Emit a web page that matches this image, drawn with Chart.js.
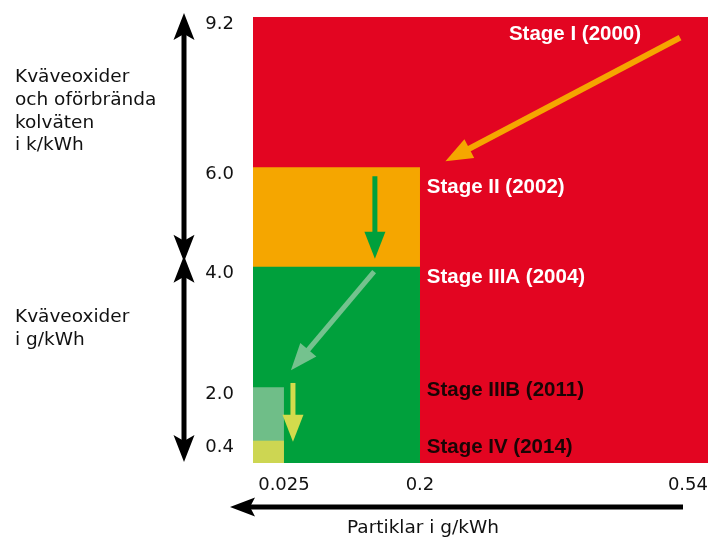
<!DOCTYPE html>
<html>
<head>
<meta charset="utf-8">
<script src="https://cdn.jsdelivr.net/npm/chart.js@4.4.1/dist/chart.umd.min.js"></script>
<style>
  html, body { margin: 0; padding: 0; background: #fff; }
  #wrap { width: 713px; height: 540px; position: relative; }
</style>
</head>
<body>
<div id="wrap"><canvas id="stageChart"></canvas></div>
<script>
// Gränsvärden per steg (EU-steg för arbetsmaskiner)
const stageNames = ['Stage I (2000)', 'Stage II (2002)', 'Stage IIIA (2004)', 'Stage IIIB (2011)', 'Stage IV (2014)'];
const partikelGrans = [0.54, 0.2, 0.2, 0.025, 0.025];   // Partiklar i g/kWh
const noxGrans = [9.2, 6.0, 4.0, 2.0, 0.4];              // Kväveoxider (+HC)

const xTickValues = [0, 0.025, 0.2, 0.54];
const xTickLabels = ['', '0.025', '0.2', '0.54'];
const yTickValues = [0.4, 2.0, 4.0, 6.0, 9.2];
const yTickLabels = ['0.4', '2.0', '4.0', '6.0', '9.2'];

// Färger (stil, inte data)
const stageColors = ['#E30521', '#F5A600', '#00A03C', '#6FBE88', '#CDD652'];
const arrowColors = ['#F5A600', '#00A03C', '#74C28E', '#D3DB4C'];
const labelColors = ['#fff', '#fff', '#fff', '#1a0505', '#1a0505'];

// Axeln är inte linjär: brytpunkter (värde -> andel av axelns längd)
const axisBreaks = {
    x: { values: [0, 0.025, 0.2, 0.54], fractions: [0, 0.068, 0.367, 1] },
    y: { values: [0, 0.4, 2.0, 4.0, 6.0, 9.2], fractions: [0, 0.050, 0.170, 0.440, 0.663, 1] }
};

// Pilar mellan stegen, i dataenheter
const stepArrows = [
    { from: [0.507, 8.76], to: [0.23, 6.13], width: 6 },
    { from: [0.142, 5.82], to: [0.142, 4.16], width: 5 },
    { from: [0.141, 3.92], to: [0.034, 2.28], width: 5 },
    { from: [0.0366, 2.07], to: [0.0366, 0.38], width: 5 }
];
// Textpositioner för stegen, i dataenheter
const labelAnchors = [[0.305, 8.72], [0.208, 5.49], [0.208, 3.73], [0.208, 1.73], [0.208, 0.18]];

function interp(xs, ys, v) {
    if (v <= xs[0]) return ys[0];
    for (let i = 1; i < xs.length; i++) {
        if (v <= xs[i]) {
            const t = (v - xs[i - 1]) / (xs[i] - xs[i - 1]);
            return ys[i - 1] + t * (ys[i] - ys[i - 1]);
        }
    }
    return ys[ys.length - 1];
}

class PiecewiseScale extends Chart.LinearScale {
    getPixelForValue(value) {
        const b = axisBreaks[this.id];
        return this.getPixelForDecimal(interp(b.values, b.fractions, value));
    }
    getValueForPixel(pixel) {
        const b = axisBreaks[this.id];
        return interp(b.fractions, b.values, this.getDecimalForPixel(pixel));
    }
}
PiecewiseScale.id = 'piecewise';
PiecewiseScale.defaults = Chart.LinearScale.defaults;
Chart.register(PiecewiseScale);

function drawArrow(ctx, x1, y1, x2, y2, color, lw, headLen, headW, notch, both) {
    const dx = x2 - x1, dy = y2 - y1;
    const len = Math.hypot(dx, dy);
    const ux = dx / len, uy = dy / len;
    ctx.save();
    ctx.fillStyle = color;
    ctx.strokeStyle = color;
    ctx.lineWidth = lw;
    const head = (tx, ty, sx, sy) => {
        const bx = tx - sx * headLen, by = ty - sy * headLen;
        ctx.beginPath();
        ctx.moveTo(tx, ty);
        ctx.lineTo(bx - sy * headW / 2, by + sx * headW / 2);
        ctx.lineTo(bx + sx * notch, by + sy * notch);
        ctx.lineTo(bx + sy * headW / 2, by - sx * headW / 2);
        ctx.closePath();
        ctx.fill();
    };
    const sx = both ? x1 + ux * (headLen - notch - 1) : x1;
    const sy = both ? y1 + uy * (headLen - notch - 1) : y1;
    const ex = x2 - ux * (headLen - notch - 1), ey = y2 - uy * (headLen - notch - 1);
    ctx.beginPath();
    ctx.moveTo(sx, sy);
    ctx.lineTo(ex, ey);
    ctx.stroke();
    head(x2, y2, ux, uy);
    if (both) head(x1, y1, -ux, -uy);
    ctx.restore();
}

const decorPlugin = {
    id: 'decor',
    afterDatasetsDraw(chart) {
        const { ctx, scales: { x, y } } = chart;
        stepArrows.forEach((a, i) => {
            drawArrow(ctx,
                x.getPixelForValue(a.from[0]), y.getPixelForValue(a.from[1]),
                x.getPixelForValue(a.to[0]), y.getPixelForValue(a.to[1]),
                arrowColors[i], a.width, 27, 21, 0, false);
        });
        ctx.save();
        ctx.font = 'bold 20.5px "Liberation Sans", Arial, sans-serif';
        ctx.textAlign = 'left';
        ctx.textBaseline = 'alphabetic';
        stageNames.forEach((name, i) => {
            ctx.fillStyle = labelColors[i];
            ctx.fillText(name, x.getPixelForValue(labelAnchors[i][0]), y.getPixelForValue(labelAnchors[i][1]));
        });
        ctx.restore();
    },
    afterDraw(chart) {
        const { ctx, scales: { x, y } } = chart;
        // svarta pilar vid y-axeln
        const ax = 184;
        const yTop = y.getPixelForValue(9.2) - 4;
        const yMid = y.getPixelForValue(4.0);
        const yBot = y.getPixelForValue(0) - 1;
        drawArrow(ctx, ax, yTop, ax, yMid - 5, '#000', 5, 27, 21, 6, true);
        drawArrow(ctx, ax, yMid - 11, ax, yBot, '#000', 5, 27, 21, 6, true);
        // svart pil vid x-axeln
        drawArrow(ctx, x.getPixelForValue(0.54) - 25, 507, x.getPixelForValue(0) - 23, 507, '#000', 5, 25, 19, 5, false);

        ctx.save();
        ctx.fillStyle = '#111';
        ctx.font = '18.5px "DejaVu Sans", sans-serif';
        ctx.textAlign = 'left';
        ctx.textBaseline = 'alphabetic';
        ['Kväveoxider', 'och oförbrända', 'kolväten', 'i k/kWh'].forEach((t, i) => ctx.fillText(t, 15, 82 + i * 22.8));
        ['Kväveoxider', 'i g/kWh'].forEach((t, i) => ctx.fillText(t, 15, 322 + i * 23));
        ctx.fillText('Partiklar i g/kWh', 347, 533);
        ctx.restore();
    }
};

const datasets = stageNames.map((name, i) => ({
    label: name,
    data: [{ x: 0, y: noxGrans[i] }, { x: partikelGrans[i], y: noxGrans[i] }],
    backgroundColor: stageColors[i],
    borderColor: stageColors[i],
    borderWidth: 0,
    pointRadius: 0,
    fill: 'origin',
    tension: 0,
    order: -i
}));

// skalornas automatiska marginaler stängs av, så diagramytan blir exakt
function noScalePadding(s) {
    s.paddingTop = 0; s.paddingBottom = 0; s.paddingLeft = 0; s.paddingRight = 0;
}

new Chart(document.getElementById('stageChart'), {
    type: 'line',
    data: { datasets: datasets },
    options: {
        responsive: true,
        maintainAspectRatio: false,
        animation: false,
        layout: { autoPadding: false, padding: { left: 200, right: 5, top: 17, bottom: 0 } },
        plugins: { legend: { display: false }, tooltip: { enabled: false } },
        scales: {
            x: {
                type: 'piecewise',
                min: 0,
                max: 0.54,
                grid: { display: false, drawTicks: false },
                border: { display: false },
                afterBuildTicks: s => { s.ticks = xTickValues.map(v => ({ value: v })); },
                afterFit: s => { s.height = 77; noScalePadding(s); },
                ticks: {
                    align: 'inner',
                    padding: 12,
                    color: '#111',
                    font: { family: '"DejaVu Sans", sans-serif', size: 18 },
                    maxRotation: 0,
                    autoSkip: false,
                    callback: (v, i) => xTickLabels[i]
                }
            },
            y: {
                type: 'piecewise',
                min: 0,
                max: 9.2,
                grid: { display: false, drawTicks: false },
                border: { display: false },
                afterBuildTicks: s => { s.ticks = yTickValues.map(v => ({ value: v })); },
                afterFit: s => { s.width = 53; noScalePadding(s); },
                ticks: {
                    padding: 19,
                    labelOffset: 7,
                    color: '#111',
                    font: { family: '"DejaVu Sans", sans-serif', size: 18 },
                    autoSkip: false,
                    callback: (v, i) => yTickLabels[i]
                }
            }
        }
    },
    plugins: [decorPlugin]
});
</script>
</body>
</html>
